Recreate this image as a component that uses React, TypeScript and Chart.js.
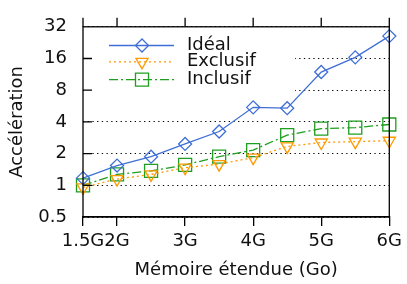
import React, { useEffect, useRef } from 'react';
import { Chart, registerables } from 'chart.js';
import { drawPoint } from 'chart.js/helpers';

Chart.register(...registerables);

const memoryGo = [1.5, 2, 2.5, 3, 3.5, 4, 4.5, 5, 5.5, 6];
const idealValues = [1.17, 1.54, 1.87, 2.47, 3.24, 5.5, 5.4, 11.9, 16.4, 26.1];
const exclusifValues = [0.955, 1.146, 1.27, 1.47, 1.59, 1.83, 2.34, 2.55, 2.6, 2.65];
const inclusifValues = [1.0, 1.27, 1.37, 1.56, 1.87, 2.16, 3.0, 3.45, 3.53, 3.78];
const seriesNames = ['Idéal', 'Exclusif', 'Inclusif'];
const xTickValues = [1.5, 2, 3, 4, 5, 6];
const xTickLabels = ['1.5G', '2G', '3G', '4G', '5G', '6G'];
const yTickValues = [0.5, 1, 2, 4, 8, 16, 32];
const yTickLabels = ['0.5', '1', '2', '4', '8', '16', '32'];
const xTitle = 'Mémoire étendue (Go)';
const yTitle = 'Accélération';

const FONT = 'DejaVu Sans';
const FSIZE = 18;
const TEXT = '#111';
const LEGEND_ROWS = [18.7, 35, 52.8];

const legendPlugin = {
  id: 'gnuLegend',
  beforeDatasetsDraw(chart: any) {
    const ctx = chart.ctx;
    const ca = chart.chartArea;
    ctx.save();
    ctx.fillStyle = '#fff';
    ctx.fillRect(ca.left + 1, ca.top + 7, 211, 66);
    chart.data.datasets.forEach((ds: any, i: number) => {
      const y = ca.top + LEGEND_ROWS[i];
      const x0 = ca.left + 26;
      const x1 = ca.left + 91;
      const xm = ca.left + 59;
      ctx.strokeStyle = ds.borderColor;
      ctx.lineWidth = ds.borderWidth;
      ctx.setLineDash(ds.borderDash || []);
      ctx.beginPath();
      ctx.moveTo(x0, y);
      ctx.lineTo(x1, y);
      ctx.stroke();
      ctx.setLineDash([]);
      ctx.fillStyle = 'rgba(0,0,0,0)';
      ctx.strokeStyle = ds.borderColor;
      ctx.lineWidth = ds.pointBorderWidth;
      drawPoint(ctx, {
        pointStyle: ds.pointStyle,
        rotation: ds.pointRotation || 0,
        radius: ds.pointRadius,
        borderWidth: ds.pointBorderWidth,
      } as any, xm, y);
      ctx.fillStyle = TEXT;
      ctx.font = `${FSIZE}px "${FONT}"`;
      ctx.textAlign = 'left';
      ctx.textBaseline = 'middle';
      ctx.fillText(ds.label, ca.left + 104, y);
    });
    ctx.restore();
  },
};

const framePlugin = {
  id: 'gnuFrame',
  afterDraw(chart: any) {
    const ctx = chart.ctx;
    const ca = chart.chartArea;
    const xs = chart.scales.x;
    const ys = chart.scales.y;
    ctx.save();
    ctx.strokeStyle = '#000';
    ctx.lineWidth = 1.3;
    ctx.setLineDash([]);
    ctx.strokeRect(ca.left, ca.top, ca.right - ca.left, ca.bottom - ca.top);
    ctx.beginPath();
    xTickValues.forEach((v) => {
      const x = xs.getPixelForValue(v);
      ctx.moveTo(x, ca.top);
      ctx.lineTo(x, ca.top - 9);
    });
    yTickValues.slice(1, -1).forEach((v) => {
      const y = ys.getPixelForValue(v);
      ctx.moveTo(ca.left, y);
      ctx.lineTo(ca.left + 9, y);
    });
    ctx.stroke();
    ctx.restore();
  },
};

export default function App() {
  const ref = useRef<HTMLCanvasElement | null>(null);

  useEffect(() => {
    if (!ref.current) return;
    const pts = (vals: number[]) => memoryGo.map((x, i) => ({ x, y: vals[i] }));
    const chart = new Chart(ref.current, {
      type: 'line',
      data: {
        datasets: [
          {
            label: seriesNames[0],
            data: pts(idealValues),
            borderColor: '#3f6fd6',
            borderWidth: 1.3,
            pointStyle: 'rectRot',
            pointRadius: 6.5,
            pointBorderWidth: 1.3,
            pointBackgroundColor: 'rgba(0,0,0,0)',
            pointBorderColor: '#3f6fd6',
            clip: false,
          } as any,
          {
            label: seriesNames[1],
            data: pts(exclusifValues),
            borderColor: '#ff9900',
            borderWidth: 1.3,
            borderDash: [2, 3],
            pointStyle: 'triangle',
            pointRotation: 180,
            pointRadius: 7,
            pointBorderWidth: 1.3,
            pointBackgroundColor: 'rgba(0,0,0,0)',
            pointBorderColor: '#ff9900',
            clip: false,
          } as any,
          {
            label: seriesNames[2],
            data: pts(inclusifValues),
            borderColor: '#1f9e1f',
            borderWidth: 1.3,
            borderDash: [9, 3, 2, 3],
            pointStyle: 'rect',
            pointRadius: 9.2,
            pointBorderWidth: 1.3,
            pointBackgroundColor: 'rgba(0,0,0,0)',
            pointBorderColor: '#1f9e1f',
            clip: false,
          } as any,
        ],
      },
      options: {
        animation: false,
        responsive: false,
        events: [],
        layout: { padding: { top: 19, right: 14, left: 0, bottom: 0 } },
        plugins: {
          legend: { display: false },
          tooltip: { enabled: false },
        },
        scales: {
          x: {
            type: 'linear',
            min: 1.5,
            max: 6,
            afterFit: (s: any) => { s.height = 67; },
            afterBuildTicks: (s: any) => { s.ticks = xTickValues.map((v) => ({ value: v })); },
            grid: {
              drawOnChartArea: false,
              drawTicks: true,
              tickLength: 9,
              color: '#000',
              lineWidth: 1.3,
            },
            border: { display: true, color: '#000', width: 1.3 },
            ticks: {
              autoSkip: false,
              maxRotation: 0,
              padding: 5,
              color: TEXT,
              font: { family: FONT, size: FSIZE },
              callback: (v: any) => xTickLabels[xTickValues.indexOf(Number(v))] ?? '',
            },
            title: {
              display: true,
              text: xTitle,
              color: TEXT,
              font: { family: FONT, size: FSIZE },
              padding: { top: 0, bottom: 3 },
            },
          },
          y: {
            type: 'logarithmic',
            min: 0.5,
            max: 32,
            afterFit: (s: any) => { s.width = 83; },
            afterBuildTicks: (s: any) => { s.ticks = yTickValues.map((v) => ({ value: v })); },
            grid: {
              drawOnChartArea: true,
              drawTicks: false,
              color: '#000',
              lineWidth: 1,
            },
            border: { display: false, dash: [1.3, 3.4] },
            ticks: {
              autoSkip: false,
              padding: 16,
              color: TEXT,
              font: { family: FONT, size: FSIZE },
              callback: (v: any) => yTickLabels[yTickValues.indexOf(Number(v))] ?? '',
            },
            title: {
              display: true,
              text: yTitle,
              color: TEXT,
              font: { family: FONT, size: FSIZE },
              padding: { top: 7, bottom: 0 },
            },
          },
        },
      },
      plugins: [legendPlugin, framePlugin],
    } as any);
    return () => chart.destroy();
  }, []);

  return (
    <div style={{ position: 'absolute', left: 0, top: 0, width: 407, height: 284 }}>
      <canvas ref={ref} width={407} height={284} style={{ display: 'block' }} />
    </div>
  );
}
